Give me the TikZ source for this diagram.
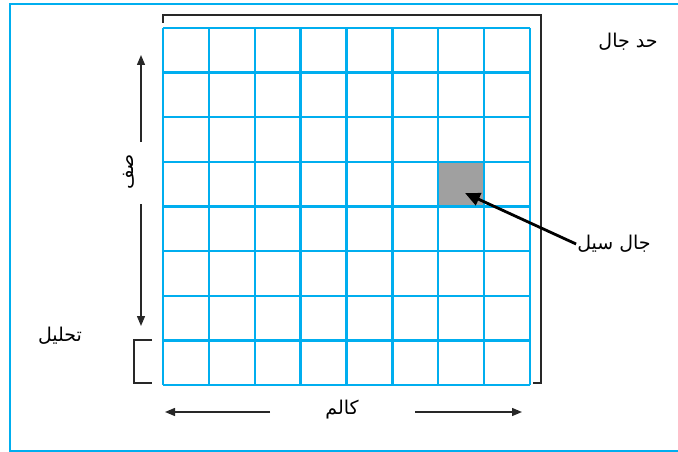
\documentclass[tikz,border=0pt]{standalone}
\usepackage{fontspec}
\newfontfamily\urdufont[Script=Arabic]{DejaVu Sans}
\TeXXeTstate=1
\usetikzlibrary{arrows.meta}
\definecolor{gridcyan}{RGB}{0,174,239}
\definecolor{cellgray}{RGB}{160,160,160}
\definecolor{inkgray}{RGB}{40,40,40}

\begin{document}
\begin{tikzpicture}[x=1pt, y=-1pt,
    urdu/.style={font=\urdufont\fontsize{19}{22}\selectfont, inner sep=1pt},
    gridline/.style={gridcyan, line width=2.4pt},
    bracket/.style={inkgray, line width=1.8pt},
    dimarrow/.style={inkgray, line width=1.3pt, -{Triangle[length=10pt, width=8pt]}},
    pointer/.style={black, line width=2.8pt, -{Triangle[length=15pt, width=13pt]}},
    cellbox/.style={fill=cellgray, minimum width=45.9pt, minimum height=44.6pt, inner sep=0pt}]
    \useasboundingbox (0,0) rectangle (678,452);

    % Outer frame
    \draw[gridcyan, line width=2.6pt] (678,4) -- (10,4) -- (10,451) -- (678,451);

    % Highlighted cell
    \node[cellbox] (cell) at (462,184.5) {};

    % Grid 8 x 8
    \foreach \i in {0,...,8} {
        \draw[gridline] ({163+\i*45.875},28) -- ({163+\i*45.875},385);
        \draw[gridline] (163,{28+\i*44.625}) -- (530,{28+\i*44.625});
    }

    % Grid boundary bracket
    \draw[bracket] (163,23) -- (163,15) -- (541,15) -- (541,383) -- (533,383);

    % Resolution bracket
    \draw[bracket] (152,340) -- (134,340) -- (134,383) -- (152,383);

    % Labels
    \node[urdu] (bound) at (628,42) {\beginR حد جال\endR};
    \node[urdu] (celllbl) at (614,244) {\beginR جال سیل\endR};
    \node[urdu] (reso) at (60,336) {\beginR تحلیل\endR};
    \node[urdu] (col) at (342,410) {\beginR کالم\endR};
    \node[urdu, rotate=90] (row) at (129,172) {\beginR صف\endR};

    % Row arrows
    \coordinate (rowtop) at (141,55);
    \coordinate (rowbot) at (141,326);
    \draw[dimarrow] (141,142) -- (rowtop);
    \draw[dimarrow] (141,204) -- (rowbot);

    % Column arrows
    \coordinate (colleft) at (165,412);
    \coordinate (colright) at (522,412);
    \draw[dimarrow] (270,412) -- (colleft);
    \draw[dimarrow] (415,412) -- (colright);

    % Pointer to the cell
    \coordinate (cellpt) at (465,193);
    \draw[pointer] (celllbl.west) -- (cellpt);
\end{tikzpicture}
\end{document}
